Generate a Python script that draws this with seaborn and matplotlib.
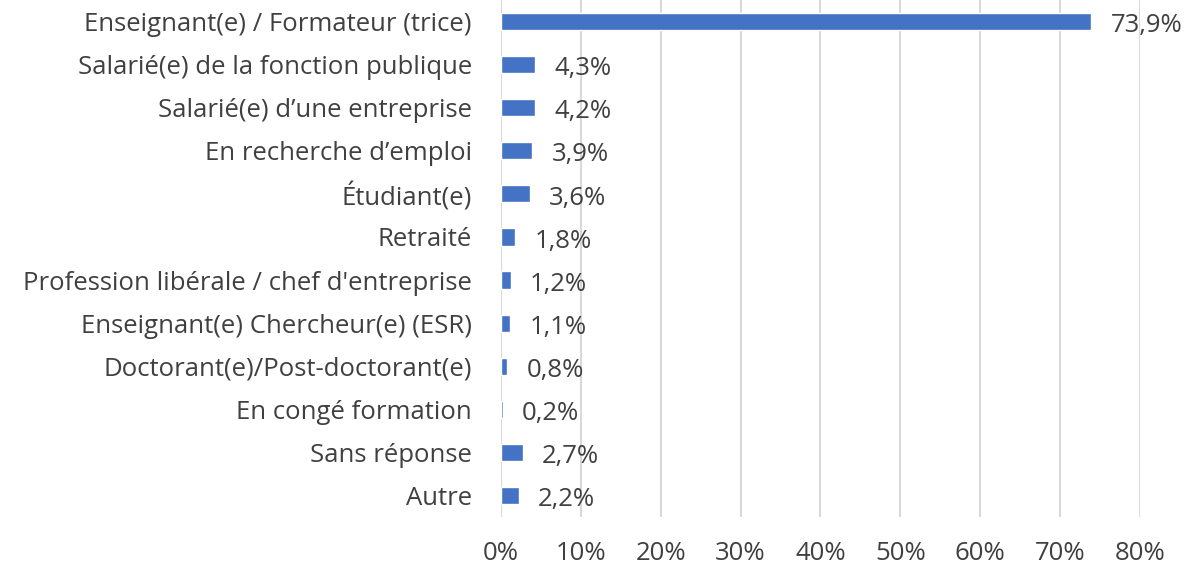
import matplotlib
matplotlib.use('Agg')
import matplotlib.pyplot as plt
import seaborn as sns
import pandas as pd
from matplotlib.ticker import FuncFormatter

categories = [
    "Enseignant(e) / Formateur (trice)",
    "Salarié(e) de la fonction publique",
    "Salarié(e) d\u2019une entreprise",
    "En recherche d\u2019emploi",
    "Étudiant(e)",
    "Retraité",
    "Profession libérale / chef d'entreprise",
    "Enseignant(e) Chercheur(e) (ESR)",
    "Doctorant(e)/Post-doctorant(e)",
    "En congé formation",
    "Sans réponse",
    "Autre",
]
values = [73.9, 4.3, 4.2, 3.9, 3.6, 1.8, 1.2, 1.1, 0.8, 0.2, 2.7, 2.2]
x_ticks = [0, 10, 20, 30, 40, 50, 60, 70, 80]

df = pd.DataFrame({'category': categories, 'value': values})

sns.set_theme(style='white')
plt.rcParams['font.family'] = ['Open Sans', 'DejaVu Sans']
text_color = '#404040'

fig = plt.figure(figsize=(11.91, 5.69), dpi=100)
ax = fig.add_axes([0.4207, 0.0914, 0.957 - 0.4207, 0.9086])

sns.barplot(data=df, x='value', y='category', orient='h', color='#4472C4',
            width=0.4, saturation=1, ax=ax, zorder=3)

ax.set_xlim(0, 80)
ax.set_ylim(len(categories) - 0.5, -0.5)
ax.set_xticks(x_ticks)
ax.xaxis.set_major_formatter(FuncFormatter(lambda v, p: f"{v:.0f}%"))
ax.grid(axis='x', color='#D9D9D9', linewidth=1.5, zorder=0)
ax.grid(axis='y', visible=False)
for s in ax.spines.values():
    s.set_visible(False)
ax.tick_params(axis='x', length=0, pad=17, labelsize=18.5, labelcolor=text_color)
ax.tick_params(axis='y', length=0, pad=21, labelsize=18.5, labelcolor=text_color)
ax.set_xlabel('')
ax.set_ylabel('')

labels = [f"{v:.1f}%".replace('.', ',') for v in values]
anns = ax.bar_label(ax.containers[0], labels=labels, padding=14, fontsize=18.5,
                    color=text_color, clip_on=False)
# excel puts the data labels a touch below the bar centre
for a in anns:
    a.xyann = (14, -3)

fig.savefig('out.png', dpi=100)
plt.close()
